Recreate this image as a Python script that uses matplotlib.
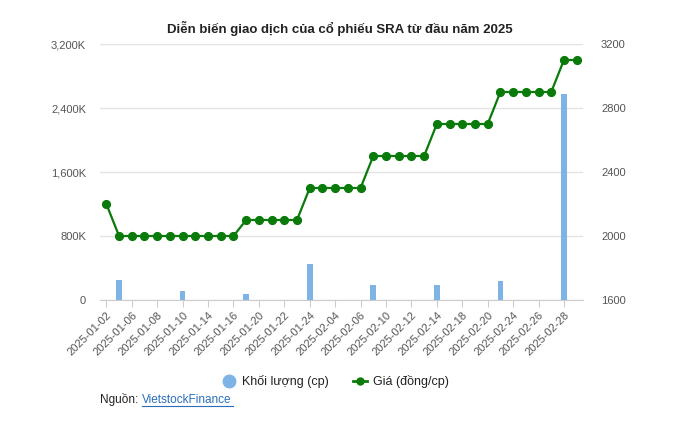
import matplotlib
matplotlib.use("Agg")
import matplotlib.pyplot as plt
from matplotlib.lines import Line2D
from matplotlib.ticker import FuncFormatter, FixedLocator

plt.rcParams['font.family'] = ['Liberation Sans', 'DejaVu Sans']

dates = ["2025-01-02", "2025-01-03", "2025-01-06", "2025-01-07", "2025-01-08", "2025-01-09",
         "2025-01-10", "2025-01-13", "2025-01-14", "2025-01-15", "2025-01-16", "2025-01-17",
         "2025-01-20", "2025-01-21", "2025-01-22", "2025-01-23", "2025-01-24", "2025-02-03",
         "2025-02-04", "2025-02-05", "2025-02-06", "2025-02-07", "2025-02-10", "2025-02-11",
         "2025-02-12", "2025-02-13", "2025-02-14", "2025-02-17", "2025-02-18", "2025-02-19",
         "2025-02-20", "2025-02-21", "2025-02-24", "2025-02-25", "2025-02-26", "2025-02-27",
         "2025-02-28", "2025-03-03"]
volume = [0, 250000, 0, 0, 0, 0, 112000, 0, 0, 0, 0, 75000,
          0, 0, 0, 0, 450000, 0, 0, 0, 0, 187000, 0, 0,
          0, 0, 187000, 0, 0, 0, 0, 237000, 0, 0, 0, 0,
          2575000, 0]
price = [2200, 2000, 2000, 2000, 2000, 2000, 2000, 2000, 2000, 2000, 2000, 2100,
         2100, 2100, 2100, 2100, 2300, 2300, 2300, 2300, 2300, 2500, 2500, 2500,
         2500, 2500, 2700, 2700, 2700, 2700, 2700, 2900, 2900, 2900, 2900, 2900,
         3100, 3100]
left_ticks = [0, 800000, 1600000, 2400000, 3200000]
right_ticks = [1600, 2000, 2400, 2800, 3200]

title = "Diễn biến giao dịch của cổ phiếu SRA từ đầu năm 2025"
bar_color = "#7EB3E6"
line_color = "#0A7A0A"

W, H = 689, 438
fig = plt.figure(figsize=(W / 100, H / 100), dpi=100)
ax = fig.add_axes([100 / W, 1 - 300 / H, 483 / W, 256 / H])
ax2 = ax.twinx()

x = list(range(len(dates)))
ax.bar(x, volume, width=0.45, color=bar_color, zorder=2)
ax2.plot(x, price, color=line_color, lw=1.6, marker='o', ms=5.6, zorder=3)

ax.set_xlim(-0.5, len(dates) - 0.5)
ax.set_ylim(0, 3200000)
ax2.set_ylim(1600, 3200)
ax.yaxis.set_major_locator(FixedLocator(left_ticks))
ax2.yaxis.set_major_locator(FixedLocator(right_ticks))
ax.yaxis.set_major_formatter(FuncFormatter(lambda v, p: "0" if v == 0 else f"{v/1000:,.0f}K"))
ax2.yaxis.set_major_formatter(FuncFormatter(lambda v, p: f"{v:.0f}"))

ax.grid(axis='y', color='#E3E3E3', lw=1, zorder=0)
ax.set_axisbelow(True)
for a in (ax, ax2):
    for s in a.spines.values():
        s.set_visible(False)
ax.spines['bottom'].set_visible(True)
ax.spines['bottom'].set_color('#CCCCCC')

tick_idx = x[::2]
ax.set_xticks(tick_idx)
ax.set_xticklabels([dates[i] for i in tick_idx], rotation=45, ha='right',
                   rotation_mode='anchor', fontsize=8, color='#555555')
ax.tick_params(axis='x', length=5, color='#CCCCCC', pad=2)
ax.tick_params(axis='y', length=0, labelsize=8, labelcolor='#555555', pad=10)
ax2.tick_params(axis='y', length=0, labelsize=8, labelcolor='#555555', pad=13)

fig.text(340 / W, 1 - 28 / H, title, ha='center', va='center', fontsize=9.5,
         fontweight='bold', color='#222222')

# legend
ly = 1 - 381 / H
fig.add_artist(Line2D([229 / W], [ly], marker='o', ms=9, color=bar_color,
                      lw=0, transform=fig.transFigure))
fig.text(242 / W, ly, "Khối lượng (cp)", ha='left', va='center', fontsize=9,
         color='#222222')
fig.add_artist(Line2D([353 / W, 367 / W], [ly, ly], color=line_color, lw=2,
                      transform=fig.transFigure))
fig.add_artist(Line2D([360 / W], [ly], marker='o', ms=5, color=line_color,
                      lw=0, transform=fig.transFigure))
fig.text(373 / W, ly, "Giá (đồng/cp)", ha='left', va='center', fontsize=9,
         color='#222222')

fig.text(100 / W, 1 - 400 / H, "Nguồn: ", ha='left', va='center', fontsize=8.5,
         color='#222222')
fig.text(142 / W, 1 - 400 / H, "VietstockFinance", ha='left', va='center', fontsize=8.5,
         color='#2A6EBB')
fig.add_artist(Line2D([142 / W, 233 / W], [1 - 406 / H, 1 - 406 / H], color='#2A6EBB',
                      lw=0.8, transform=fig.transFigure))

fig.savefig("out.png", dpi=100)
